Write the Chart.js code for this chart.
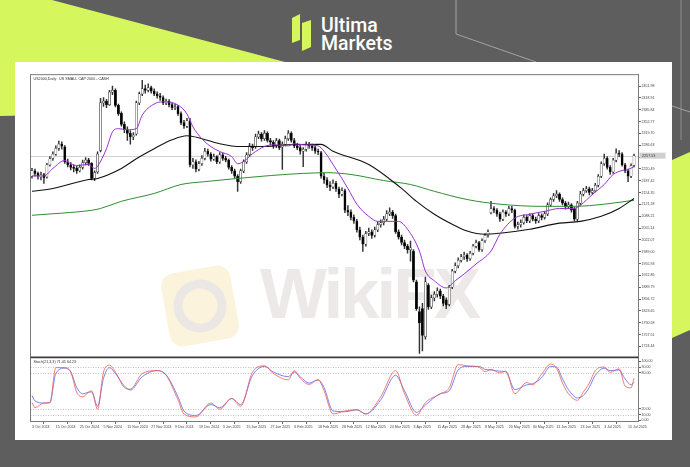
<!DOCTYPE html>
<html><head><meta charset="utf-8">
<script src="https://cdn.jsdelivr.net/npm/chart.js@4.4.0/dist/chart.umd.min.js"></script>
<style>
html,body{margin:0;padding:0;}
body{width:690px;height:467px;position:relative;overflow:hidden;background:#5e5e5e;font-family:'Liberation Sans',sans-serif;}
#bg{position:absolute;left:0;top:0;}
#wrap{position:absolute;left:30px;top:72px;width:640px;height:362px;}
</style></head>
<body>
<svg id="bg" width="690" height="467">
  <rect width="690" height="467" fill="#5e5e5e"/>
  <polygon points="0,0 52,0 330,74 330,110 0,116" fill="#d5f65c"/>
  <polygon points="672,160 690,152 690,330 672,338" fill="#d5f65c"/>
  <polyline points="456,0 456,34 536,62" fill="none" stroke="#a3a3a3" stroke-width="1"/>
  <line x1="681" y1="0" x2="681" y2="140" stroke="#8c8c8c" stroke-width="1"/>
  <line x1="672" y1="106" x2="690" y2="112" stroke="#a3a3a3" stroke-width="1"/>
  <polygon points="292,18 300,14 300,40 292,43" fill="#d5f65c"/>
  <polygon points="302,23 311,20 311,47 302,51" fill="#d5f65c"/>
  <text x="321" y="32" font-family="Roboto" font-weight="500" font-size="19.5" fill="#ffffff">Ultima</text>
  <text x="321" y="50" font-family="Roboto" font-weight="500" font-size="19.5" fill="#ffffff">Markets</text>
  <rect x="15" y="62" width="657" height="378" fill="#ffffff"/>
  <g transform="rotate(-10 200 306)">
    <rect x="165" y="269" width="70" height="74" rx="13" fill="#fcf3dc"/>
    <circle cx="200" cy="306" r="22" fill="none" stroke="#ebe7e4" stroke-width="9"/>
  </g>
  <text x="260" y="318" font-family="Liberation Sans" font-weight="bold" font-size="71" letter-spacing="-3" fill="#eee9e9">WikiFX</text>
</svg>
<div id="wrap"><canvas id="c" width="640" height="362"></canvas></div>
<script>
// ---- data ----
const dateLabels = ["3 Oct 2024","15 Oct 2024","25 Oct 2024","5 Nov 2024","15 Nov 2024","27 Nov 2024","9 Dec 2024","19 Dec 2024","3 Jan 2025","15 Jan 2025","27 Jan 2025","6 Feb 2025","18 Feb 2025","28 Feb 2025","12 Mar 2025","24 Mar 2025","3 Apr 2025","15 Apr 2025","28 Apr 2025","8 May 2025","20 May 2025","30 May 2025","11 Jun 2025","23 Jun 2025","3 Jul 2025","15 Jul 2025"];
const dateBars = [0,8,16,24,32,40,48,56,64,72,80,88,96,104,112,120,128,136,144,152,160,168,176,184,192,200];
const priceTicks = [2451.98,2418.91,2385.84,2352.77,2319.70,2286.63,2253.56,2220.49,2187.42,2154.35,2121.28,2088.21,2055.14,2022.07,1989.00,1955.93,1922.86,1889.79,1856.72,1823.65,1790.58,1757.51,1724.44];
const stochTicks = [100,90,80,20,10,0];
const stochLevels = [90,80,20,10];

const opens = [2200,2215,2208,2198,2205,2198,2232,2250,2262,2278,2290,2282,2240,2232,2226,2222,2215,2225,2238,2246,
2236,2195,2212,2272,2405,2410,2400,2435,2440,2398,2376,2345,2330,2320,2310,2318,2405,2430,2445,2440,
2448,2438,2430,2425,2420,2405,2410,2400,2392,2395,2375,2350,2340,2355,2232,2240,2220,2235,2250,2270,
2262,2248,2255,2240,2260,2250,2245,2225,2215,2200,2185,2215,2240,2260,2285,2282,2310,2318,2305,2320,
2300,2295,2285,2300,2282,2290,2305,2320,2300,2285,2280,2270,2275,2290,2285,2280,2270,2266,2200,2190,
2175,2170,2180,2165,2150,2160,2105,2100,2085,2075,2050,2030,2010,2040,2045,2035,2050,2065,2070,2080,
2095,2100,2090,2045,2030,2015,2005,1995,1990,1905,1822,1830,1752,1895,1835,1860,1870,1880,1865,1855,
1842,1890,1935,1950,1965,1975,1980,1970,1985,2005,2015,1995,2020,2035,2098,2110,2105,2095,2080,2100,
2095,2110,2105,2060,2065,2070,2085,2075,2090,2080,2075,2090,2085,2095,2120,2135,2145,2150,2135,2125,
2115,2120,2110,2080,2125,2150,2160,2165,2155,2160,2175,2200,2235,2250,2225,2212,2245,2265,2262,2232,
2215,2200,2230];
const highs = [2222,2220,2212,2212,2208,2236,2255,2268,2285,2298,2296,2286,2248,2238,2232,2228,2232,2245,2252,2250,
2238,2215,2268,2418,2420,2415,2440,2452,2444,2402,2380,2352,2338,2328,2322,2410,2435,2468,2455,2458,
2452,2444,2436,2432,2425,2416,2414,2405,2402,2398,2380,2356,2362,2362,2250,2246,2242,2258,2278,2276,
2266,2262,2258,2266,2265,2256,2248,2230,2220,2205,2220,2246,2266,2292,2290,2318,2326,2322,2328,2324,
2306,2300,2306,2304,2296,2312,2328,2324,2306,2292,2286,2280,2296,2295,2290,2285,2276,2270,2208,2196,
2185,2190,2186,2170,2168,2164,2118,2106,2092,2080,2058,2036,2046,2055,2050,2058,2072,2078,2088,2104,
2112,2105,2094,2050,2036,2022,2010,2019,1995,1910,1835,1845,1918,1900,1868,1878,1888,1885,1870,1860,
1895,1940,1958,1972,1982,1988,1984,1990,2010,2022,2018,2025,2040,2050,2130,2115,2110,2100,2106,2104,
2116,2116,2108,2072,2078,2092,2090,2096,2094,2086,2096,2095,2102,2126,2140,2152,2160,2154,2140,2130,
2128,2124,2114,2130,2158,2166,2172,2170,2166,2180,2205,2240,2262,2255,2230,2250,2277,2272,2266,2236,
2220,2235,2262];
const lows = [2195,2200,2192,2190,2180,2195,2228,2244,2258,2272,2276,2236,2226,2218,2212,2208,2212,2220,2232,2230,
2190,2188,2208,2268,2395,2392,2398,2428,2394,2370,2340,2322,2300,2290,2302,2315,2400,2425,2432,2436,
2432,2425,2418,2412,2400,2400,2394,2386,2386,2370,2344,2334,2336,2226,2222,2212,2215,2230,2246,2256,
2242,2244,2235,2236,2244,2240,2220,2208,2195,2158,2180,2210,2236,2255,2272,2278,2305,2298,2300,2295,
2288,2278,2280,2274,2219,2285,2300,2295,2280,2274,2262,2227,2270,2278,2272,2264,2260,2195,2180,2168,
2160,2165,2158,2140,2145,2098,2090,2078,2068,2044,2022,1990,2005,2034,2026,2030,2045,2058,2064,2076,
2090,2082,2040,2024,2008,1998,1985,1963,1905,1825,1705,1712,1745,1828,1830,1852,1862,1858,1838,1830,
1838,1886,1930,1944,1960,1968,1962,1965,1980,2000,1990,1990,2015,2030,2095,2098,2088,2074,2076,2088,
2090,2098,2055,2052,2058,2066,2070,2070,2075,2068,2070,2078,2080,2090,2115,2130,2140,2130,2120,2108,
2110,2100,2075,2076,2120,2145,2155,2148,2150,2156,2170,2196,2230,2220,2205,2208,2240,2255,2228,2210,
2185,2196,2226];
const closes = [2215,2208,2200,2205,2196,2232,2249,2262,2278,2290,2284,2240,2232,2225,2222,2215,2225,2238,2245,2236,
2194,2210,2262,2405,2410,2400,2435,2440,2398,2375,2345,2330,2320,2310,2315,2405,2430,2445,2440,2448,
2438,2430,2425,2420,2405,2410,2400,2392,2395,2375,2350,2340,2355,2232,2240,2220,2235,2250,2270,2262,
2248,2255,2240,2260,2250,2245,2225,2215,2200,2185,2215,2240,2260,2285,2280,2310,2318,2305,2320,2300,
2295,2285,2300,2280,2290,2305,2320,2300,2285,2280,2270,2275,2290,2285,2280,2270,2268,2200,2190,2175,
2170,2180,2165,2150,2160,2105,2100,2085,2075,2050,2030,2010,2040,2045,2035,2050,2065,2070,2080,2095,
2100,2090,2045,2030,2015,2005,1995,2000,1910,1830,1790,1755,1905,1835,1860,1870,1880,1865,1845,1840,
1890,1935,1950,1965,1975,1980,1970,1985,2005,2015,1995,2020,2035,2045,2110,2105,2095,2080,2100,2095,
2110,2105,2060,2065,2070,2085,2075,2090,2080,2075,2090,2085,2095,2120,2135,2145,2150,2135,2125,2115,
2120,2105,2080,2125,2150,2160,2165,2155,2160,2175,2200,2235,2250,2225,2212,2245,2265,2262,2232,2215,
2200,2230,2257.53];

// moving averages, read at sampled bars
const maFastBars = [0,4,7,11,13,15,19,21,22,25,27,29,32,35,37,41,44,49,52,54,57,60,63,67,69,71,74,78,81,86,88,91,96,98,101,106,109,113,116,119,123,126,130,132,135,139,142,145,149,154,157,162,167,172,177,182,184,188,192,195,198,200,202];
const maFastVals = [2201,2201,2222,2244,2235,2230,2233,2222,2228,2277,2324,2333,2330,2333,2371,2402,2408,2399,2374,2338,2305,2283,2269,2255,2235,2241,2263,2283,2288,2285,2291,2288,2285,2270,2233,2166,2122,2088,2074,2074,2074,2052,1991,1935,1908,1888,1908,1927,1955,1991,2038,2083,2094,2102,2110,2110,2119,2149,2177,2205,2216,2219,2227];
const maMidBars = [0,7,19,22,30,35,41,47,52,57,63,70,77,86,97,101,113,124,129,135,141,146,152,157,167,177,184,191,197,202];
const maMidVals = [2158,2166,2191,2194,2222,2249,2277,2302,2313,2305,2291,2283,2283,2288,2289,2270,2233,2166,2130,2094,2066,2047,2038,2041,2052,2069,2074,2088,2110,2138];
const maSlowBars = [0,10,20,23,30,41,50,58,69,80,91,99,107,118,127,135,146,157,171,182,192,202];
const maSlowVals = [2091,2097,2105,2110,2130,2152,2177,2185,2194,2202,2208,2210,2205,2188,2177,2158,2135,2122,2116,2116,2122,2133];

// stochastic, read at sampled bars
const stochBars = [0,1,4,6,8,11,13,15,17,19,20,22,24,26,28,31,33,37,42,45,49,51,55,60,63,67,70,74,78,81,86,88,90,93,96,98,101,105,109,112,117,122,125,129,132,137,140,143,146,150,152,154,157,159,162,166,168,171,174,176,178,180,183,185,187,189,192,194,197,199,201,202];
const stochMain = [30,21.6,29.4,30,89,89,81.6,47.6,39.8,47.6,50,19,81.6,93,81.6,55.5,52.9,79,84,76,34.6,11,6,29.4,19,37,24,81.6,92,79,68.5,84,71,60.7,68.5,50,11,16,18,11,39.8,84,45,8.5,30,45,55,94,92,90,82,86,80,83,45,64,60,78,95,88,63,45,34,48,63,84,90,81,87,58,55,71.45];
const stochSignal = [42,33,29.4,30,79,88,82,55.5,45,47.6,48,24,71,89,79,58,51.3,73.7,84,77,39.8,16,8.5,26.8,21.6,37,26.8,76,91,81.6,73.7,81.6,73.7,63,68.5,55.5,16,14.8,18,11,34.6,76,50,13.7,26,45,50,85,91,91,86,85,83,82,52,60,62,72,91,90,70,52,38,42,56,76,88,84,85,70,60,64.23];

// ---- build library tables ----
const nBars = closes.length;
const pts = (bars, vals) => bars.map((b, k) => ({x: b, y: vals[k]}));
const wickData = closes.map((c, i) => ({x: i, y: [lows[i], highs[i]]}));
const bodyData = closes.map((c, i) => ({x: i, y: [opens[i], c]}));

const FONT = 'Liberation Sans';
Chart.defaults.font.family = FONT;

const decor = {
  id: 'decor',
  beforeDatasetsDraw(chart) {
    const {ctx, chartArea: a, scales} = chart;
    const y = scales.y, yS = scales.yS;
    ctx.save();
    const py = Math.round(y.getPixelForValue(closes[nBars - 1])) + 0.5;
    ctx.strokeStyle = '#d2d2d2'; ctx.lineWidth = 1;
    ctx.beginPath(); ctx.moveTo(a.left, py); ctx.lineTo(a.right, py); ctx.stroke();
    ctx.setLineDash([1, 1.5]); ctx.strokeStyle = '#a8a8a8'; ctx.lineWidth = 0.7;
    stochLevels.forEach(l => {
      const yy = Math.round(yS.getPixelForValue(l)) + 0.5;
      ctx.beginPath(); ctx.moveTo(a.left, yy); ctx.lineTo(a.right, yy); ctx.stroke();
    });
    ctx.restore();
  },
  afterDraw(chart) {
    const {ctx, chartArea: a, scales} = chart;
    const y = scales.y, yS = scales.yS;
    ctx.save();
    ctx.strokeStyle = '#7a7a7a'; ctx.lineWidth = 1;
    ctx.strokeRect(a.left, a.top, a.right - a.left, a.bottom - a.top);
    ctx.strokeStyle = '#3c3c3c'; ctx.lineWidth = 1.6;
    ctx.beginPath(); ctx.moveTo(a.left, yS.top); ctx.lineTo(a.right, yS.top); ctx.stroke();
    ctx.fillStyle = '#333';
    ctx.font = '3.7px "' + FONT + '"';
    ctx.textBaseline = 'middle'; ctx.textAlign = 'left';
    ctx.fillText('US2000,Daily:  US SMALL CAP 2000 - CASH', a.left + 3, a.top + 4);
    ctx.fillText('Stoch(21,3,3) ' + stochMain[stochMain.length - 1].toFixed(2) + ' ' + stochSignal[stochSignal.length - 1].toFixed(2), a.left + 3, yS.top + 4.5);
    // current price tag
    const last = closes[nBars - 1];
    const py = y.getPixelForValue(last);
    ctx.fillStyle = '#d0d0d0';
    ctx.fillRect(a.right + 1, py - 3, 26, 6);
    ctx.fillStyle = '#333';
    ctx.fillText(last.toFixed(2), a.right + 3.5, py);
    ctx.restore();
  }
};

new Chart(document.getElementById('c'), {
  type: 'bar',
  data: {
    datasets: [
      {type: 'line', label: 'MA fast', data: pts(maFastBars, maFastVals), borderColor: '#9a2fd0', borderWidth: 1, pointRadius: 0, cubicInterpolationMode: 'monotone', yAxisID: 'y', order: 0},
      {type: 'line', label: 'MA mid', data: pts(maMidBars, maMidVals), borderColor: '#111111', borderWidth: 1.1, pointRadius: 0, cubicInterpolationMode: 'monotone', yAxisID: 'y', order: 0},
      {type: 'line', label: 'MA slow', data: pts(maSlowBars, maSlowVals), borderColor: '#2f8f2f', borderWidth: 1, pointRadius: 0, cubicInterpolationMode: 'monotone', yAxisID: 'y', order: 0},
      {type: 'bar', label: 'body', data: bodyData, grouped: false, barThickness: 2.2, borderWidth: 0.5, borderSkipped: false, borderColor: '#222',
        backgroundColor: c => closes[c.dataIndex] >= opens[c.dataIndex] ? '#ffffff' : '#000000', yAxisID: 'y', order: 1},
      {type: 'bar', label: 'wick', data: wickData, grouped: false, barThickness: 0.8, backgroundColor: '#333', borderWidth: 0, yAxisID: 'y', order: 2},
      {type: 'line', label: 'Stoch main', data: pts(stochBars, stochMain), borderColor: '#ee5a50', borderWidth: 0.8, pointRadius: 0, cubicInterpolationMode: 'monotone', yAxisID: 'yS', order: 0},
      {type: 'line', label: 'Stoch signal', data: pts(stochBars, stochSignal), borderColor: '#5a66e8', borderWidth: 0.8, pointRadius: 0, cubicInterpolationMode: 'monotone', yAxisID: 'yS', order: 0}
    ]
  },
  options: {
    responsive: false, animation: false, devicePixelRatio: 1,
    layout: {padding: {left: 0.5, top: 0.5, right: 0, bottom: 0}},
    plugins: {legend: {display: false}, tooltip: {enabled: false}},
    scales: {
      x: {
        type: 'linear', position: 'bottom', min: -0.5, max: nBars + 0.5, offset: false,
        grid: {drawOnChartArea: false, tickLength: 2.5, color: '#666'},
        border: {color: '#7a7a7a'},
        ticks: {autoSkip: false, maxRotation: 0, minRotation: 0, align: 'start', padding: 0.5, color: '#444', font: {size: 3.6}, callback: (v, i) => dateLabels[i]},
        afterBuildTicks: s => { s.ticks = dateBars.map(v => ({value: v})); },
        afterFit: s => { s.height = 12.5; }
      },
      y: {
        type: 'linear', position: 'right', stack: 'panes', stackWeight: 284.5, min: 1693.9, max: 2483.9,
        grid: {drawOnChartArea: false, tickLength: 2.5, color: '#666'},
        border: {color: '#7a7a7a'},
        ticks: {autoSkip: false, padding: 0.5, color: '#444', font: {size: 3.6}, callback: v => v.toFixed(2)},
        afterBuildTicks: s => { s.ticks = priceTicks.map(v => ({value: v})); },
        afterFit: s => { s.width = 31.5; }
      },
      yS: {
        type: 'linear', position: 'right', stack: 'panes', stackWeight: 64.5, min: -1.7, max: 106.2,
        grid: {drawOnChartArea: false, tickLength: 2.5, color: '#666'},
        border: {color: '#7a7a7a'},
        ticks: {autoSkip: false, padding: 0.5, color: '#444', font: {size: 3.6}, callback: v => v.toFixed(2)},
        afterBuildTicks: s => { s.ticks = stochTicks.map(v => ({value: v})); },
        afterFit: s => { s.width = 31.5; }
      }
    }
  },
  plugins: [decor]
});
</script>
</body></html>
